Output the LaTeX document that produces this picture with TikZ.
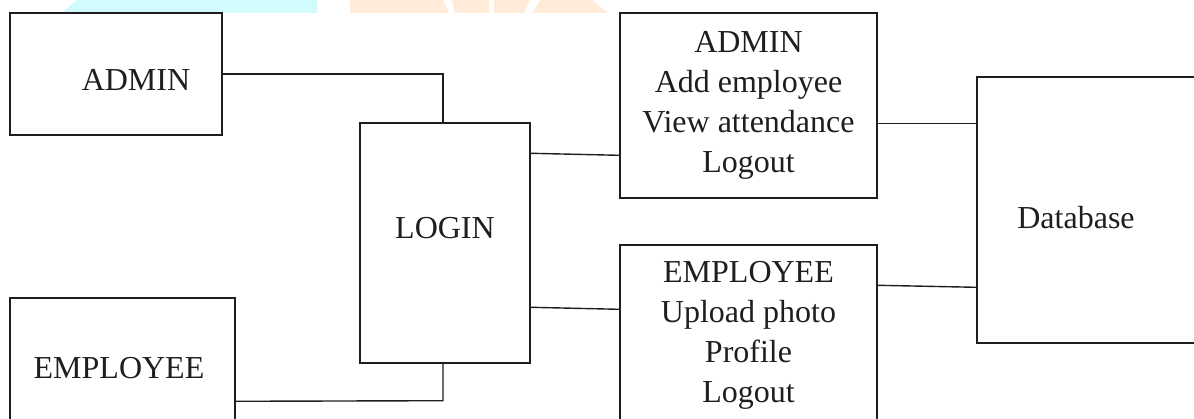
\documentclass[tikz,border=0pt]{standalone}
\usepackage{fontspec}
\setmainfont{Liberation Serif}
\usetikzlibrary{calc}
\definecolor{wmcyan}{HTML}{D2FBFD}
\definecolor{wmorange}{HTML}{FFEBD8}
\definecolor{ink}{HTML}{1E1E1E}
\tikzset{
  lbl/.style={font=\fontsize{32}{40}\selectfont, text=ink, inner sep=0pt},
  box/.style={draw=ink, line width=1.4pt, rectangle, inner sep=0pt, align=center,
    font=\fontsize{32}{40}\selectfont, text=ink},
  link/.style={draw=ink, line width=1.4pt}
}
\begin{document}
\begin{tikzpicture}[x=1pt,y=-1pt]
\useasboundingbox (0,0) rectangle (1194,419);
% watermark remnants
\fill[wmcyan] (62,13) -- (77,0) -- (317,0) -- (317,13) -- cycle;
\fill[wmorange] (350,0) -- (443,0) -- (449,13) -- (350,13) -- cycle;
\fill[wmorange] (452,0) -- (489,0) -- (489,13) -- (455,13) -- cycle;
\fill[wmorange] (494,0) -- (530,0) -- (524,13) -- (494,13) -- cycle;
\fill[wmorange] (540,0) -- (592,0) -- (608,13) -- (533,13) -- cycle;
% boxes
\node[box, minimum width=212pt, minimum height=122pt] (admin) at (116,74) {};
\node[lbl] (admintxt) at (136,80) {ADMIN};
\node[box, minimum width=170pt, minimum height=240pt] (login) at (445,243) {};
\node[lbl] (logintxt) at (445,228) {LOGIN};
\node[box, minimum width=257pt, minimum height=185pt] (admin2) at (748.5,105.5)
  {ADMIN\\Add employee\\View attendance\\Logout};
\node[box, minimum width=220pt, minimum height=266pt] (db) at (1087,210) {};
\node[lbl] (dbtxt) at (1076,218) {Database};
\node[box, minimum width=257pt, minimum height=180pt] (emp2) at (748.5,335)
  {EMPLOYEE\\Upload photo\\Profile\\Logout};
\node[box, minimum width=225pt, minimum height=127pt] (emp) at (122.5,361.5) {};
\node[lbl] (emptxt) at (119,368) {EMPLOYEE};
% connectors
\draw[link] (admin.east) -| ([xshift=-2pt]login.north);
\draw[link] ($(login.north east)+(0,31)$) -- ($(admin2.north west)+(0,143)$);
\draw[link] ($(admin2.north east)+(0,111)$) -- ($(db.north west)+(0,47)$);
\draw[link] ($(login.north east)+(0,185)$) -- ($(emp2.north west)+(0,65)$);
\draw[link] ($(emp2.north east)+(0,41)$) -- ($(db.north west)+(0,211)$);
\draw[link] ($(emp.north east)+(0,104)$) -- ($(login.south)+(-2,37)$) -- ([xshift=-2pt]login.south);
\end{tikzpicture}
\end{document}
